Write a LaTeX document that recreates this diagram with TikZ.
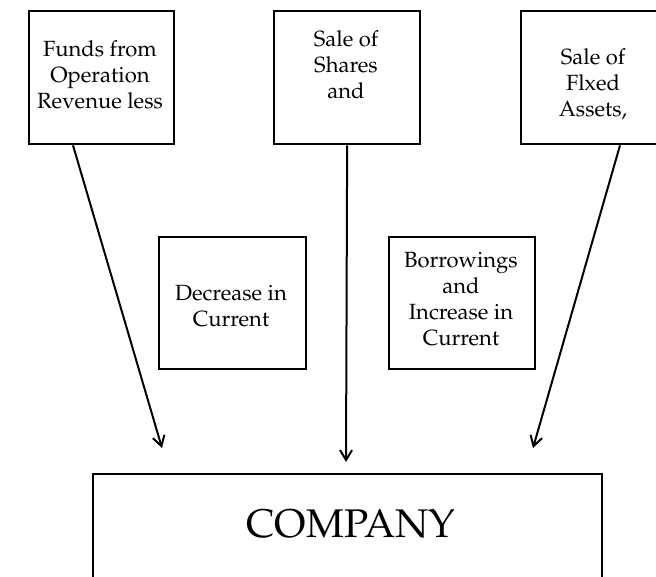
\documentclass[tikz,border=0pt]{standalone}
\usepackage[T1]{fontenc}
\usepackage{mathpazo}
\usetikzlibrary{arrows.meta}
\tikzset{
    srcbox/.style = {draw, line width = 2.3pt, minimum width = 146pt, minimum height = 133pt, anchor = north west, inner sep = 0pt},
    boxtext/.style = {anchor = north, align = center, inner sep = 0pt, font = \fontsize{22}{26}\selectfont},
    flow/.style = {line width = 2pt, -{Straight Barb[length=10pt,width=12pt]}}
}

\begin{document}
\begin{tikzpicture}[x = 1pt, y = -1pt]
        \useasboundingbox (0,0) rectangle (656,576);
        \clip (0,0) rectangle (656,576);

        \node[srcbox, minimum width = 145pt] (funds) at (28,10) {};
        \node[srcbox] (shares) at (273,10) {};
        \node[srcbox] (assets) at (520,10) {};
        \node[srcbox, minimum width = 147pt, minimum height = 132pt] (decrease) at (158,236) {};
        \node[srcbox, minimum height = 132pt] (borrow) at (388,236) {};
        \node[draw, line width = 1.7pt, minimum width = 509pt, minimum height = 140pt, anchor = north west] (company) at (92,473) {};

        \node[boxtext] (funds-txt) at (100,40) {Funds from\\Operation\\Revenue less};
        \node[boxtext] (shares-txt) at (346,30) {Sale of\\Shares\\and};
        \node[boxtext] (assets-txt) at (593,48) {Sale of\\Flxed\\Assets,};
        \node[boxtext] (decrease-txt) at (231,285) {Decrease in\\Current};
        \node[boxtext] (borrow-txt) at (461,252) {Borrowings\\and\\Increase in\\Current};
        \node[anchor = base, inner sep = 0pt, font = \fontsize{40}{48}\selectfont] (company-txt) at (351,537) {COMPANY};

        \coordinate (tip1) at (162,448);
        \coordinate (tip2) at (346,462);
        \coordinate (tip3) at (533,448);
        \draw[flow] ([xshift = 45pt]funds.south west) -- (tip1);
        \draw[flow] (shares.south) -- (tip2);
        \draw[flow] ([xshift = 100pt]assets.south west) -- (tip3);
    \end{tikzpicture}
\end{document}
